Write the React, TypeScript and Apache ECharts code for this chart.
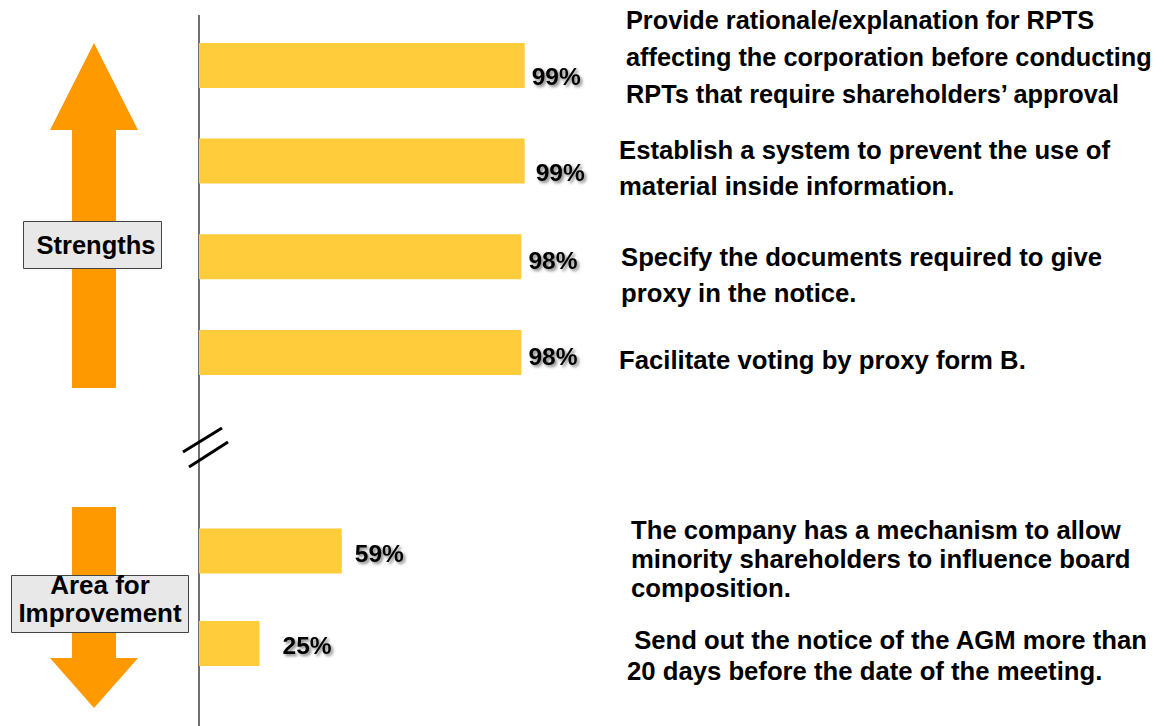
import React, { useEffect, useRef } from "react";
import * as echarts from "echarts";

// ---- Data ----
const strengthItems = [
  "Provide rationale/explanation for RPTS affecting the corporation before conducting RPTs that require shareholders' approval",
  "Establish a system to prevent the use of material inside information.",
  "Specify the documents required to give proxy in the notice.",
  "Facilitate voting by proxy form B.",
];
const strengthValues = [99, 99, 98, 98];

const improvementItems = [
  "The company has a mechanism to allow minority shareholders to influence board composition.",
  "Send out the notice of the AGM more than 20 days before the date of the meeting.",
];
const improvementValues = [59, 25];

// Displayed description texts (line-broken as in the picture)
const strengthTexts = [
  "Provide rationale/explanation for RPTS\naffecting the corporation before conducting\nRPTs that require shareholders\u2019 approval",
  "Establish a system to prevent the use of\nmaterial inside information.",
  "Specify the documents required to give\nproxy in the notice.",
  "Facilitate voting by proxy form B.",
];
const improvementTexts = [
  "The company has a mechanism to allow\nminority shareholders to influence board\ncomposition.",
  " Send out the notice of the AGM more than\n20 days before the date of the meeting.",
];

const groupLabels = ["Strengths", "Area for\nImprovement"];

// ---- Style constants ----
const FONT = "'Liberation Sans', Arial, Helvetica, sans-serif";
const BAR_COLOR = "#FFCC3C";
const ARROW_COLOR = "#FF9900";
const topLabelShift = [[7, 11], [11, 11], [7, 4], [7, 4]];
const bottomLabelShift = [[13, 2], [23, 2]];
const strengthTextPos = [
  { x: 626, y: 20, lh: 37, fs: 25.3 },
  { x: 619, y: 150, lh: 36, fs: 25.7 },
  { x: 621, y: 257, lh: 36, fs: 25.7 },
  { x: 619, y: 360, lh: 36, fs: 25.7 },
];
const improvementTextPos = [
  { x: 631, y: 530, lh: 29, fs: 25.7 },
  { x: 627, y: 640, lh: 31, fs: 25.7 },
];

const labelStyle = (shift: number[]) => ({
  show: true,
  position: "right",
  distance: 0,
  offset: shift,
  formatter: "{c}%",
  fontFamily: FONT,
  fontWeight: "bold",
  fontSize: 24.5,
  color: "#000",
  textShadowColor: "rgba(0,0,0,0.5)",
  textShadowBlur: 3,
  textShadowOffsetX: 2,
  textShadowOffsetY: 2,
});

function descTexts(
  texts: string[],
  pos: { x: number; y: number; lh: number; fs: number }[]
) {
  return texts.map((t, i) => ({
    type: "text",
    left: pos[i].x,
    top: pos[i].y - pos[i].lh / 2,
    style: {
      text: t,
      fontFamily: FONT,
      fontWeight: "bold",
      fontSize: pos[i].fs,
      lineHeight: pos[i].lh,
      fill: "#000",
    },
  }));
}

export default function App() {
  const ref = useRef<HTMLDivElement>(null);
  useEffect(() => {
    if (!ref.current) return;
    const chart = echarts.init(ref.current, null, { renderer: "svg" });
    const option: any = {
      animation: false,
      backgroundColor: "#fff",
      grid: [
        { left: 199, top: 17.6, width: 329, height: 382.6 },
        { left: 199, top: 504.75, width: 242, height: 185 },
      ],
      xAxis: [
        { type: "value", gridIndex: 0, min: 0, max: 100, show: false },
        { type: "value", gridIndex: 1, min: 0, max: 100, show: false },
      ],
      yAxis: [
        {
          type: "category",
          gridIndex: 0,
          inverse: true,
          data: strengthItems,
          show: false,
        },
        {
          type: "category",
          gridIndex: 1,
          inverse: true,
          data: improvementItems,
          show: false,
        },
      ],
      series: [
        {
          type: "bar",
          xAxisIndex: 0,
          yAxisIndex: 0,
          barWidth: 45,
          itemStyle: { color: BAR_COLOR },
          data: strengthValues.map((v, i) => ({
            value: v,
            label: labelStyle(topLabelShift[i]),
          })),
        },
        {
          type: "bar",
          xAxisIndex: 1,
          yAxisIndex: 1,
          barWidth: 45,
          itemStyle: { color: BAR_COLOR },
          data: improvementValues.map((v, i) => ({
            value: v,
            label: labelStyle(bottomLabelShift[i]),
          })),
        },
      ],
      graphic: [
        // vertical axis line
        {
          type: "line",
          shape: { x1: 199, y1: 15, x2: 199, y2: 726 },
          style: { stroke: "#707070", lineWidth: 2 },
        },
        // axis break marks
        {
          type: "line",
          shape: { x1: 183, y1: 452, x2: 222, y2: 428 },
          style: { stroke: "#000", lineWidth: 3 },
        },
        {
          type: "line",
          shape: { x1: 189, y1: 467, x2: 228, y2: 442 },
          style: { stroke: "#000", lineWidth: 3 },
        },
        // up arrow
        {
          type: "polygon",
          shape: {
            points: [
              [94, 43], [138, 130], [116, 130], [116, 388],
              [72, 388], [72, 130], [50, 130],
            ],
          },
          style: { fill: ARROW_COLOR },
        },
        // down arrow
        {
          type: "polygon",
          shape: {
            points: [
              [72, 507], [116, 507], [116, 658], [138, 658],
              [94, 708], [50, 658], [72, 658],
            ],
          },
          style: { fill: ARROW_COLOR },
        },
        // Strengths box
        {
          type: "rect",
          shape: { x: 23.5, y: 221.5, width: 138, height: 47 },
          style: { fill: "#E8E8E8", stroke: "#444", lineWidth: 1 },
        },
        {
          type: "text",
          x: 96,
          y: 245,
          style: {
            text: groupLabels[0],
            fontFamily: FONT,
            fontWeight: "bold",
            fontSize: 25.5,
            fill: "#000",
            align: "center",
            verticalAlign: "middle",
          },
        },
        // Area for Improvement box
        {
          type: "rect",
          shape: { x: 11.5, y: 575.5, width: 177, height: 57 },
          style: { fill: "#E8E8E8", stroke: "#444", lineWidth: 1 },
        },
        {
          type: "text",
          x: 100,
          y: 599,
          style: {
            text: groupLabels[1],
            fontFamily: FONT,
            fontWeight: "bold",
            fontSize: 26,
            lineHeight: 28,
            fill: "#000",
            align: "center",
            verticalAlign: "middle",
          },
        },
        ...descTexts(strengthTexts, strengthTextPos),
        ...descTexts(improvementTexts, improvementTextPos),
      ],
    };
    chart.setOption(option);
    return () => chart.dispose();
  }, []);
  return (
    <div
      ref={ref}
      style={{ position: "fixed", left: 0, top: 0, width: 1165, height: 726 }}
    />
  );
}
